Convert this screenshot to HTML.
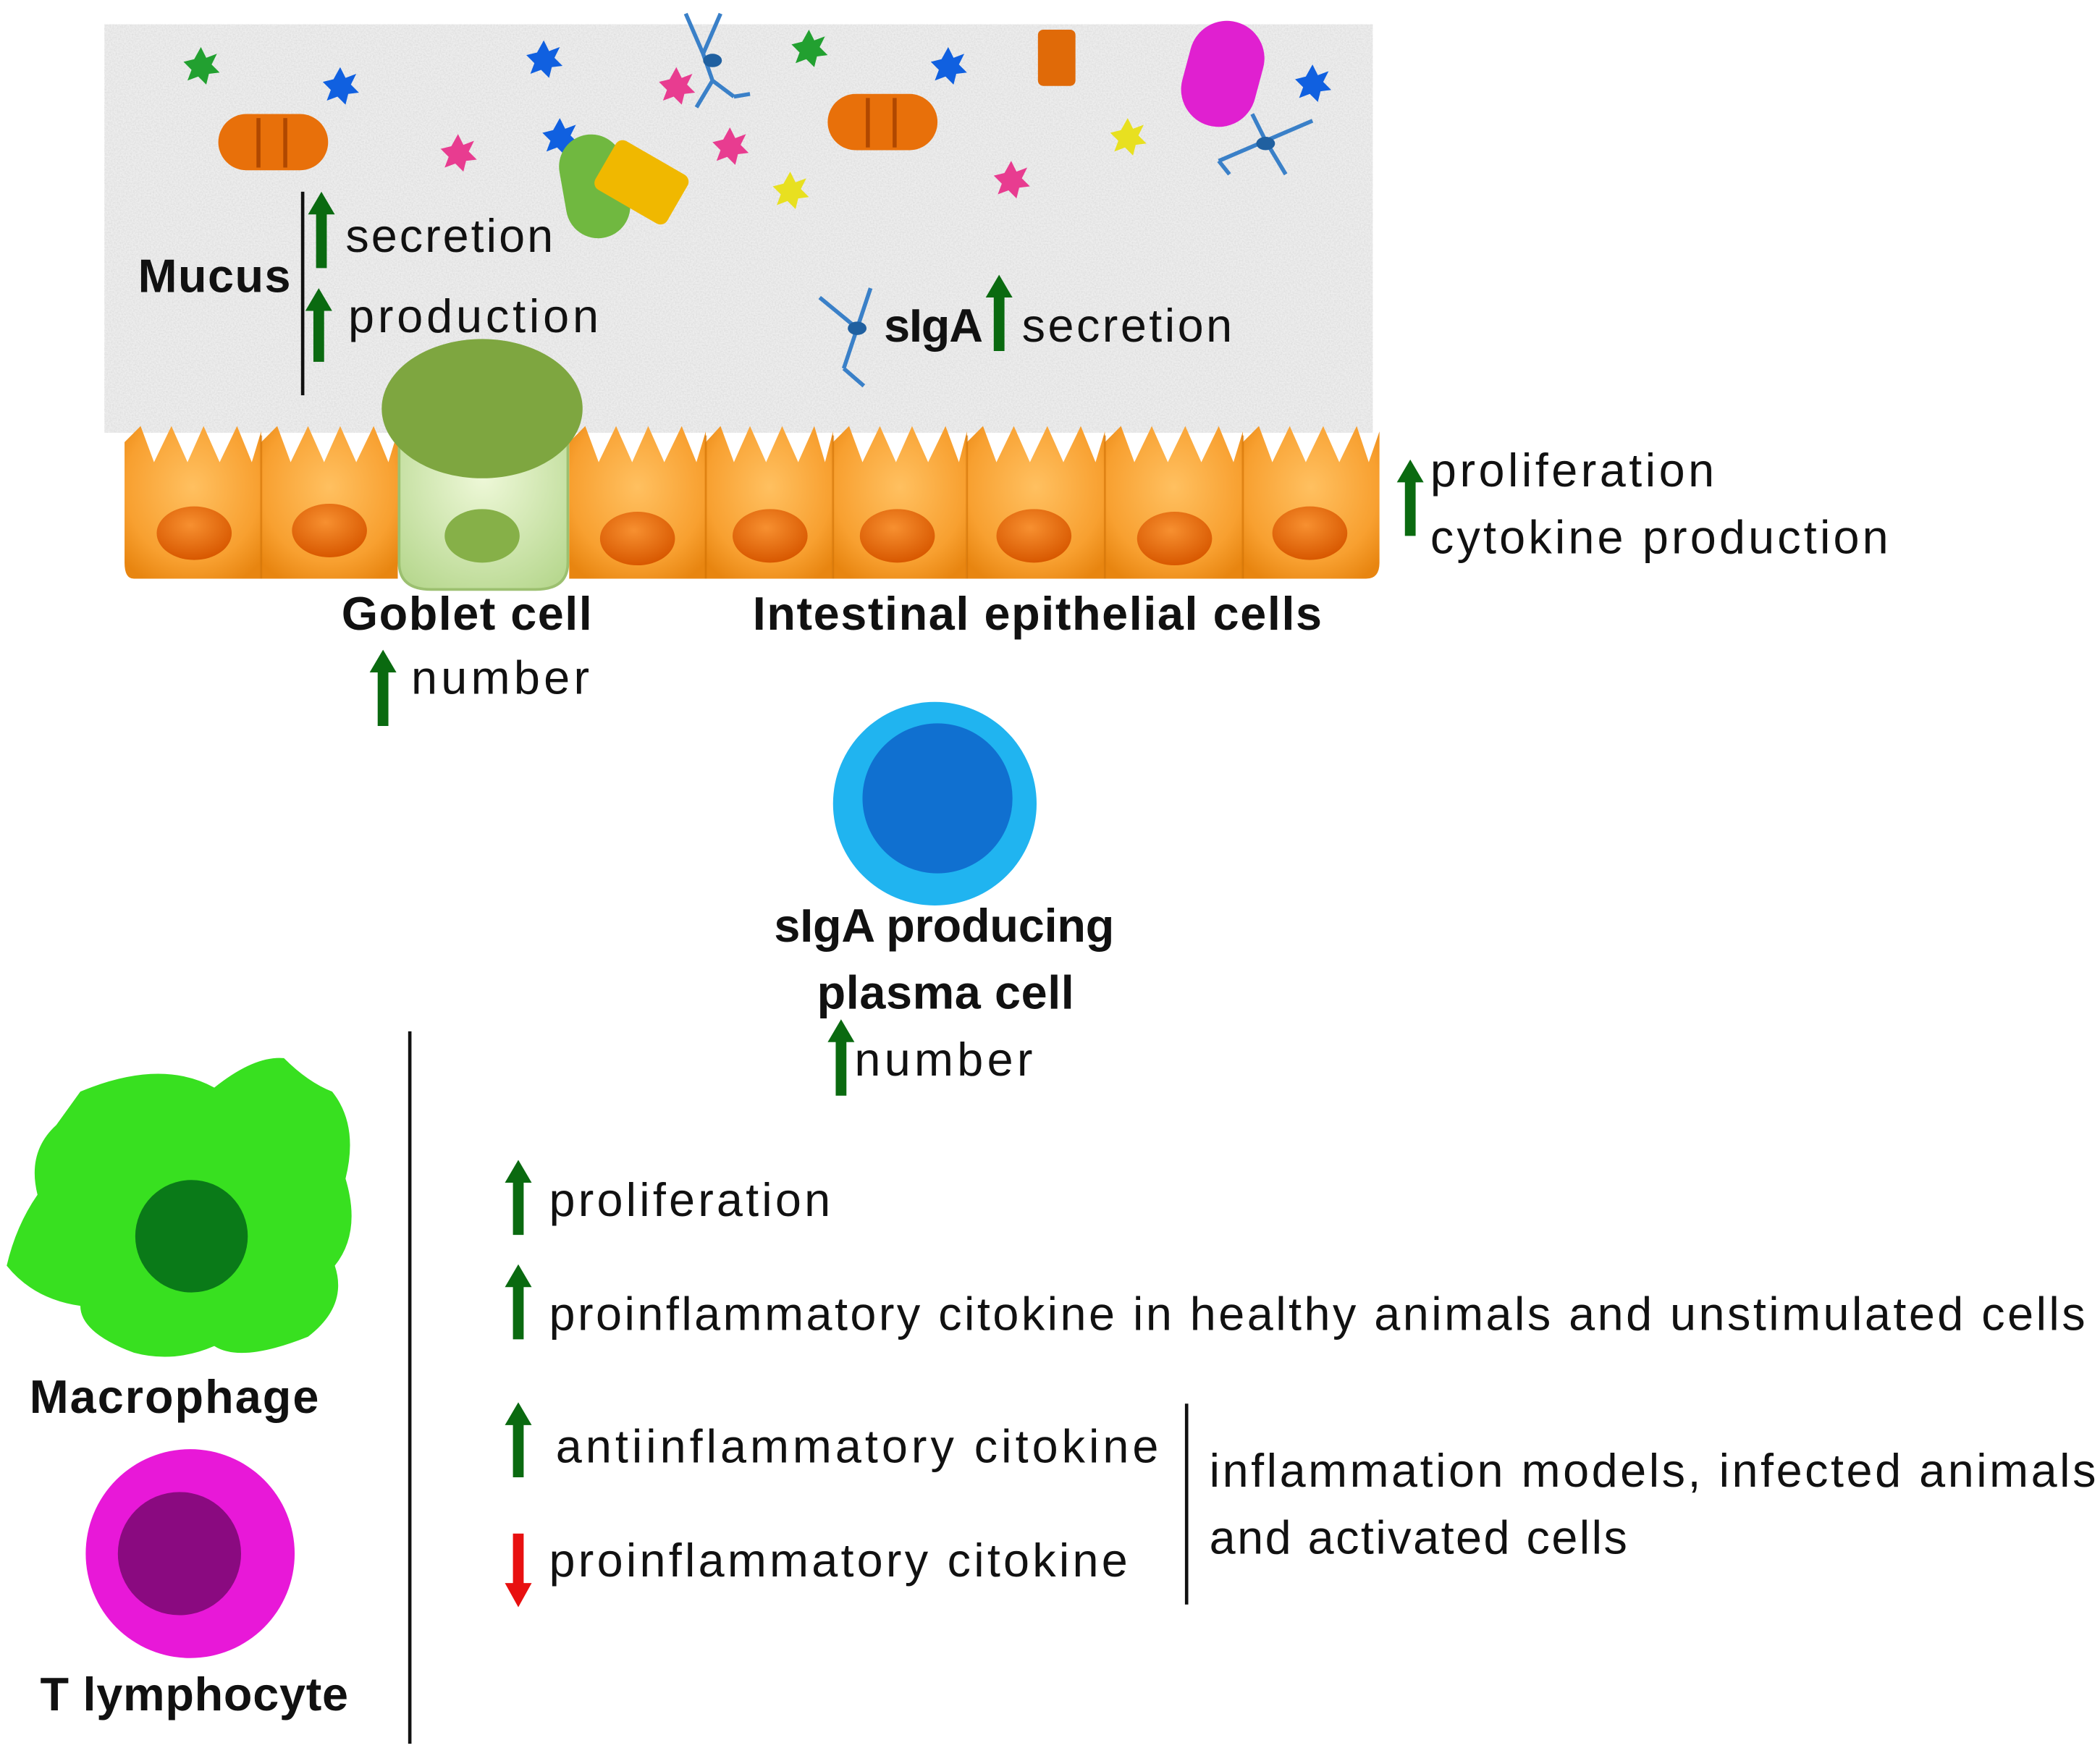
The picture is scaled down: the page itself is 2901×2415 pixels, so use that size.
<!DOCTYPE html>
<html><head><meta charset="utf-8"><style>
html,body{margin:0;padding:0;background:#fff;}
svg{display:block;}
text{font-family:"Liberation Sans",sans-serif;font-size:35px;fill:#111;}
.b{font-weight:bold;}
</style></head><body>
<svg width="2901" height="2415" viewBox="0 0 1568 1305" xmlns="http://www.w3.org/2000/svg">
<defs>
<filter id="noise" filterUnits="userSpaceOnUse" x="78" y="18" width="947" height="305"><feTurbulence type="fractalNoise" baseFrequency="0.9" numOctaves="2" seed="3"/><feColorMatrix values="0 0 0 0 0.55  0 0 0 0 0.55  0 0 0 0 0.55  0 0 0 -1.6 1.1"/></filter>
<radialGradient id="orc" cx="50%" cy="40%" r="70%"><stop offset="0" stop-color="#ffc060"/><stop offset="0.7" stop-color="#f8a030"/><stop offset="1" stop-color="#e88510"/></radialGradient>
<radialGradient id="nuc" cx="45%" cy="35%" r="65%"><stop offset="0" stop-color="#f79030"/><stop offset="1" stop-color="#d85800"/></radialGradient>
<radialGradient id="gob" cx="50%" cy="40%" r="70%"><stop offset="0" stop-color="#eef8d8"/><stop offset="1" stop-color="#b8d890"/></radialGradient>
</defs>
<!-- mucus -->
<rect x="78" y="18" width="947" height="305" fill="#ededed"/>
<rect x="78" y="18" width="947" height="305" fill="#888" filter="url(#noise)" opacity="0.4"/>
<!-- epithelial cells -->
<g>
<path d="M93 330 L105 318 L115 345 L128 318 L140 345 L152 318 L164 345 L177 318 L188 345 L195 322 L195 432 L100 432 Q93 432 93 420 Z" fill="url(#orc)"/>
<path d="M195 330 L207 318 L217 345 L230 318 L242 345 L254 318 L266 345 L279 318 L290 345 L297 322 L297 432 L195 432 Z" fill="url(#orc)"/>
<path d="M425 330 L437 318 L447 345 L460 318 L472 345 L484 318 L496 345 L509 318 L520 345 L527 322 L527 432 L425 432 Z" fill="url(#orc)"/>
<path d="M527 330 L538 318 L548 345 L560 318 L572 345 L584 318 L596 345 L608 318 L616 345 L622 322 L622 432 L527 432 Z" fill="url(#orc)"/>
<path d="M622 330 L634 318 L644 345 L657 318 L669 345 L681 318 L693 345 L706 318 L716 345 L722 322 L722 432 L622 432 Z" fill="url(#orc)"/>
<path d="M722 330 L734 318 L744 345 L757 318 L769 345 L782 318 L794 345 L807 318 L818 345 L825 322 L825 432 L722 432 Z" fill="url(#orc)"/>
<path d="M825 330 L837 318 L847 345 L860 318 L872 345 L885 318 L897 345 L910 318 L921 345 L928 322 L928 432 L825 432 Z" fill="url(#orc)"/>
<path d="M928 330 L940 318 L950 345 L963 318 L975 345 L988 318 L1000 345 L1013 318 L1022 345 L1030 322 L1030 420 Q1030 432 1020 432 L928 432 Z" fill="url(#orc)"/>
<g stroke="#d07000" stroke-width="1.5" fill="none" opacity="0.6"><line x1="195" y1="325" x2="195" y2="432"/><line x1="527" y1="325" x2="527" y2="432"/><line x1="622" y1="325" x2="622" y2="432"/><line x1="722" y1="325" x2="722" y2="432"/><line x1="825" y1="325" x2="825" y2="432"/><line x1="928" y1="325" x2="928" y2="432"/></g>
<g fill="url(#nuc)">
<ellipse cx="145" cy="398" rx="28" ry="20"/><ellipse cx="246" cy="396" rx="28" ry="20"/>
<ellipse cx="476" cy="402" rx="28" ry="20"/><ellipse cx="575" cy="400" rx="28" ry="20"/>
<ellipse cx="670" cy="400" rx="28" ry="20"/><ellipse cx="772" cy="400" rx="28" ry="20"/>
<ellipse cx="877" cy="402" rx="28" ry="20"/><ellipse cx="978" cy="398" rx="28" ry="20"/>
</g>
</g>
<!-- goblet -->
<path d="M298 300 L424 300 L424 420 Q424 440 400 440 L322 440 Q298 440 298 420 Z" fill="url(#gob)" stroke="#9cc070" stroke-width="2"/>
<ellipse cx="360" cy="305" rx="75" ry="52" fill="#7ea640"/>
<ellipse cx="360" cy="400" rx="28" ry="20" fill="#86b048"/>
<!-- mucus decorations -->
<g>
<polygon points="150,35 154,43 162,40 158,48 164,54 156,55 154,63 148,57 140,60 143,52 137,46 145,44" fill="#22a030"/>
<polygon points="254,50 258,58 266,55 262,63 268,69 260,70 258,78 252,72 244,75 247,67 241,61 249,59" fill="#1060e0"/>
<polygon points="406,30 410,38 418,35 414,43 420,49 412,50 410,58 404,52 396,55 399,47 393,41 401,39" fill="#1060e0"/>
<polygon points="604,22 608,30 616,27 612,35 618,41 610,42 608,50 602,44 594,47 597,39 591,33 599,31" fill="#22a030"/>
<polygon points="708,35 712,43 720,40 716,48 722,54 714,55 712,63 706,57 698,60 701,52 695,46 703,44" fill="#1060e0"/>
<polygon points="980,48 984,56 992,53 988,61 994,67 986,68 984,76 978,70 970,73 973,65 967,59 975,57" fill="#1060e0"/>
<polygon points="418,88 422,96 430,93 426,101 432,107 424,108 422,116 416,110 408,113 411,105 405,99 413,97" fill="#1060e0"/>
<polygon points="505,50 509,58 517,55 513,63 519,69 511,70 509,78 503,72 495,75 498,67 492,61 500,59" fill="#e83c90"/>
<polygon points="342,100 346,108 354,105 350,113 356,119 348,120 346,128 340,122 332,125 335,117 329,111 337,109" fill="#e83c90"/>
<polygon points="545,95 549,103 557,100 553,108 559,114 551,115 549,123 543,117 535,120 538,112 532,106 540,104" fill="#e83c90"/>
<polygon points="755,120 759,128 767,125 763,133 769,139 761,140 759,148 753,142 745,145 748,137 742,131 750,129" fill="#e83c90"/>
<polygon points="590,128 594,136 602,133 598,141 604,147 596,148 594,156 588,150 580,153 583,145 577,139 585,137" fill="#e8e020"/>
<polygon points="842,88 846,96 854,93 850,101 856,107 848,108 846,116 840,110 832,113 835,105 829,99 837,97" fill="#e8e020"/>
<rect x="163" y="85" width="82" height="42" rx="21" fill="#e8700a"/>
<rect x="618" y="70" width="82" height="42" rx="21" fill="#e8700a"/>
<rect x="775" y="22" width="28" height="42" rx="4" fill="#e06a08"/>
<g stroke="#b04800" stroke-width="3"><line x1="193" y1="88" x2="193" y2="125"/><line x1="213" y1="88" x2="213" y2="125"/><line x1="648" y1="73" x2="648" y2="110"/><line x1="668" y1="73" x2="668" y2="110"/></g>
<rect x="420" y="100" width="48" height="78" rx="24" fill="#70b840" transform="rotate(-10 444 139)"/>
<rect x="448" y="115" width="62" height="42" rx="6" fill="#f0b800" transform="rotate(30 479 136)"/>
<rect x="885" y="15" width="56" height="80" rx="28" fill="#e020d0" transform="rotate(15 913 55)"/>
<g stroke="#3a80c8" stroke-width="3" fill="none">
<path d="M512 10 L525 40 L538 10 M525 40 L532 60 L548 72 M532 60 L520 80 M548 72 L560 70"/>
<path d="M910 120 L945 105 L980 90 M945 105 L935 85 M945 105 L960 130 M918 130 L910 120"/>
<path d="M612 222 L640 245 L630 275 M640 245 L650 215 M630 275 L645 288"/>
</g>
<ellipse cx="532" cy="45" rx="7" ry="5" fill="#2060a0"/><ellipse cx="945" cy="107" rx="7" ry="5" fill="#2060a0"/><ellipse cx="640" cy="245" rx="7" ry="5" fill="#2060a0"/>
</g>
<!-- arrows -->
<g fill="#0a6a10">
<path d="M236 200 V160 H230 L240 143 L250 160 H244 V200 Z"/>
<path d="M234 270 V232 H228 L238 215 L248 232 H242 V270 Z"/>
<path d="M742 262 V222 H736 L746 205 L756 222 H750 V262 Z"/>
<path d="M1049 400 V360 H1043 L1053 343 L1063 360 H1057 V400 Z"/>
<path d="M282 542 V502 H276 L286 485 L296 502 H290 V542 Z"/>
<path d="M624 818 V778 H618 L628 761 L638 778 H632 V818 Z"/>
<path d="M383 922 V883 H377 L387 866 L397 883 H391 V922 Z"/>
<path d="M383 1000 V961 H377 L387 944 L397 961 H391 V1000 Z"/>
<path d="M383 1103 V1064 H377 L387 1047 L397 1064 H391 V1103 Z"/>
</g>
<path d="M383 1145 V1182 H377 L387 1200 L397 1182 H391 V1145 Z" fill="#e81010"/>
<!-- lines -->
<g stroke="#111" stroke-width="2.5"><line x1="226" y1="143" x2="226" y2="295"/><line x1="306" y1="770" x2="306" y2="1302"/><line x1="886" y1="1048" x2="886" y2="1198"/></g>
<!-- plasma cell -->
<circle cx="698" cy="600" r="76" fill="#20b4f0"/><circle cx="700" cy="596" r="56" fill="#1070d0"/>
<!-- macrophage -->
<path d="M60 815 Q120 790 160 812 Q190 788 212 790 Q230 808 248 815 Q268 840 258 880 Q270 920 250 945 Q260 975 230 998 Q180 1018 160 1005 Q130 1018 100 1010 Q60 995 60 975 Q25 970 5 945 Q12 915 28 892 Q20 860 42 840 Z" fill="#38e020"/>
<circle cx="143" cy="923" r="42" fill="#0a7a18"/>
<!-- T lymphocyte -->
<circle cx="142" cy="1160" r="78" fill="#e818d8"/><circle cx="134" cy="1160" r="46" fill="#8a0a80"/>
<!-- text -->
<text x="103" y="218" class="b" textLength="114">Mucus</text>
<text x="258" y="188" textLength="155">secretion</text>
<text x="260" y="248" textLength="187">production</text>
<text x="660" y="255" class="b" textLength="74">sIgA</text>
<text x="763" y="255" textLength="157">secretion</text>
<text x="1068" y="363" textLength="212">proliferation</text>
<text x="1068" y="413" textLength="342">cytokine production</text>
<text x="255" y="470" class="b" textLength="187">Goblet cell</text>
<text x="562" y="470" class="b" textLength="425">Intestinal epithelial cells</text>
<text x="307" y="518" textLength="133">number</text>
<text x="578" y="703" class="b" textLength="254">sIgA producing</text>
<text x="610" y="753" class="b" textLength="192">plasma cell</text>
<text x="638" y="803" textLength="133">number</text>
<text x="22" y="1055" class="b" textLength="216">Macrophage</text>
<text x="30" y="1277" class="b" textLength="230">T lymphocyte</text>
<text x="410" y="908" textLength="210">proliferation</text>
<text x="410" y="993" textLength="1147">proinflammatory citokine in healthy animals and unstimulated cells</text>
<text x="415" y="1092" textLength="450">antiinflammatory  citokine</text>
<text x="410" y="1177" textLength="432">proinflammatory citokine</text>
<text x="903" y="1110" textLength="662">inflammation models, infected animals</text>
<text x="903" y="1160" textLength="312">and activated cells</text>
</svg>
</body></html>
